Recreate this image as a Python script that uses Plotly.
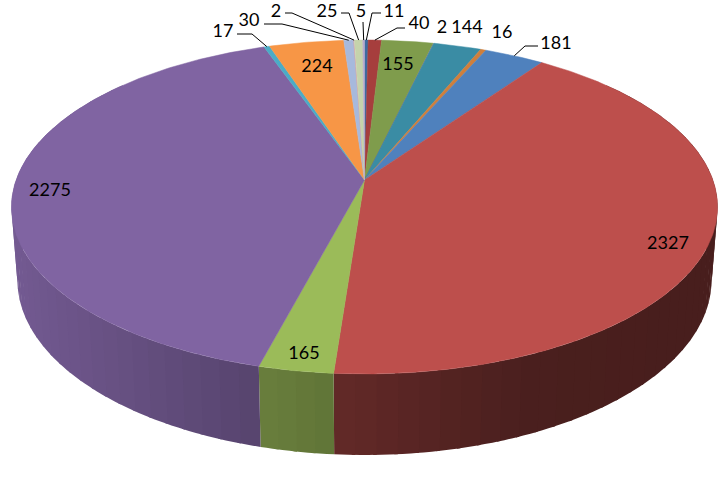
import numpy as np
import plotly.graph_objects as go

# ---- data (clockwise from twelve o'clock)
values = [11, 40, 155, 2, 144, 16, 181, 2327, 165, 2275, 17, 224, 30, 2, 25, 5]
labels = [str(v) for v in values]
colors = ["#3d6ba0", "#a63e3d", "#7f9c4c", "#6a5187", "#3a8ca4", "#cf7f3c",
          "#4f81bd", "#bd4f4c", "#9bbb59", "#8064a2", "#4bacc6", "#f79646",
          "#a7b9dc", "#dda09f", "#c5d3ab", "#b8a9cd"]

# ---- layout / projection parameters (window pixels)
W, H = 727, 503
APEX_X, APEX_Y = 364.5, 180
R, S, P = 348.4, 162.6, 0.1617
TOP_CY, BOT_CY, BOT_SX, BOT_SY = 207, 280, 0.983, 1.048
START_DEG = 0.0
label_xy = [(394, 12), (419, 24), (398, 65), (442, 28), (467, 28), (502, 33),
            (556, 44), (668, 244), (304, 354), (50, 191), (223, 32), (317, 67),
            (249, 21), (276, 12), (327, 12), (361, 12)]
# elbow points of the leader lines, keyed by slice index
leaders = {0: [(381, 13), (372, 13)], 1: [(405, 28), (397, 28)],
           6: [(538, 46), (525, 46)], 10: [(237, 34), (252, 34)],
           12: [(264, 24), (282, 24)], 13: [(285, 13), (292, 13)],
           14: [(341, 13), (349, 13)], 15: [(363, 22)]}
shade_x = [10, 150, 255, 334, 336, 450, 530, 710]
shade_k = [0.90, 0.77, 0.68, 0.62, 0.52, 0.44, 0.39, 0.38]
BAND_DEG = 3
BAND_OVERLAP_DEG = 0.5


def top(theta_deg, r=1.0):
    t = np.radians(theta_deg)
    u, v = r * np.sin(t), r * np.cos(t)
    d = 1 + P * v
    return APEX_X + R * u / d, APEX_Y - S * v / d


def bottom(theta_deg):
    x, y = top(theta_deg)
    return APEX_X + BOT_SX * (x - APEX_X), BOT_CY + BOT_SY * (y - TOP_CY)


def shaded(hex_color, k):
    rgb = [int(hex_color[i:i + 2], 16) for i in (1, 3, 5)]
    return "rgb(%d,%d,%d)" % tuple(round(c * k) for c in rgb)


total = sum(values)
edges = START_DEG + np.concatenate([[0], np.cumsum(values)]) * 360 / total
fig = go.Figure()

# side wall, in narrow bands with a horizontal shading; each band runs a little
# under the next one so that no seam shows
for i, col in enumerate(colors):
    a0, a1 = max(edges[i], 50), min(edges[i + 1], 310)
    if a1 <= a0:
        continue
    n = max(1, int(np.ceil((a1 - a0) / BAND_DEG)))
    steps = np.linspace(a0, a1, n + 1)
    for s0, s1 in zip(steps[:-1], steps[1:]):
        arc = np.linspace(s0, min(s1 + BAND_OVERLAP_DEG, a1), 4)
        tx, ty = top(arc)
        bx, by = bottom(arc)
        c = shaded(col, float(np.interp(tx.mean(), shade_x, shade_k)))
        fig.add_trace(go.Scatter(
            x=np.concatenate([tx, bx[::-1]]), y=np.concatenate([ty, by[::-1]]),
            mode="none", fill="toself", fillcolor=c,
            hoverinfo="skip", showlegend=False))

# top face
for i, col in enumerate(colors):
    arc = np.linspace(edges[i], edges[i + 1], max(3, int((edges[i + 1] - edges[i]) * 2)))
    ax, ay = top(arc)
    fig.add_trace(go.Scatter(
        x=np.concatenate([[APEX_X], ax, [APEX_X]]),
        y=np.concatenate([[APEX_Y], ay, [APEX_Y]]),
        mode="lines", fill="toself", fillcolor=col,
        line=dict(color=col, width=0.5), hoverinfo="skip", showlegend=False))

# leader lines
for i, pts in leaders.items():
    rx, ry = top((edges[i] + edges[i + 1]) / 2)
    xs = [p[0] for p in pts] + [rx]
    ys = [p[1] for p in pts] + [ry]
    fig.add_trace(go.Scatter(x=xs, y=ys, mode="lines",
                             line=dict(color="#000000", width=1),
                             hoverinfo="skip", showlegend=False))

# value labels
fig.add_trace(go.Scatter(
    x=[p[0] for p in label_xy], y=[p[1] for p in label_xy], text=labels,
    mode="text", textposition="middle center", cliponaxis=False,
    textfont=dict(family="Lato", size=18, color="#000000"),
    hoverinfo="skip", showlegend=False))

fig.update_layout(
    width=W, height=H, margin=dict(l=0, r=0, t=0, b=0),
    paper_bgcolor="white", plot_bgcolor="white", showlegend=False,
    xaxis=dict(range=[0, W], visible=False, fixedrange=True),
    yaxis=dict(range=[H, 0], visible=False, fixedrange=True),
)
fig.write_html("out.html", config={"displayModeBar": False},
               post_script="document.body.style.margin='0';document.documentElement.style.overflow='hidden';")
